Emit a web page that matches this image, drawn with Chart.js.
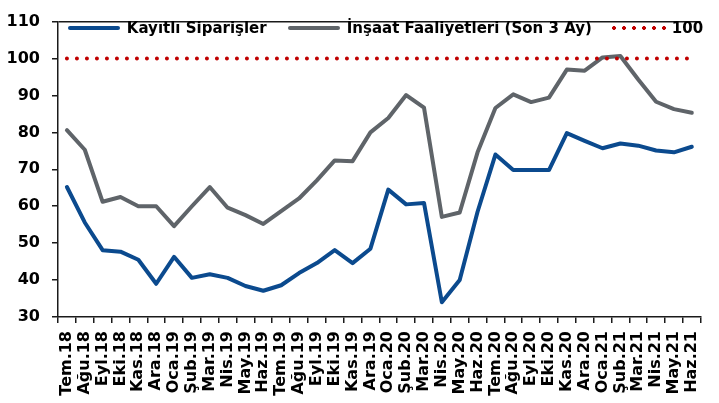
<!DOCTYPE html>
<html>
<head>
<meta charset="utf-8">
<script src="https://cdn.jsdelivr.net/npm/chart.js@4.4.1/dist/chart.umd.min.js"></script>
<style>
  html, body { margin: 0; padding: 0; background: #fff; }
  #wrap { width: 719px; height: 403px; position: relative; }
  #legend {
    position: absolute; left: 55px; width: 661px; top: 18px; height: 20px;
    display: flex; justify-content: center; align-items: center;
    font: bold 15px "DejaVu Sans"; color: #000; white-space: nowrap;
  }
  .item { display: flex; align-items: center; margin: 0 10.5px; }
  .sw { width: 52px; height: 4px; border-radius: 2px; margin-right: 7px; }
  .sw.dots { width: 54px; margin-left: -1px; margin-right: 6px; border-radius: 0; }
</style>
</head>
<body>
<div id="wrap"><canvas id="c"></canvas><div id="legend"></div></div>
<script>
// Months (Temmuz 2018 - Haziran 2021)
const months = ['Tem.18','Ağu.18','Eyl.18','Eki.18','Kas.18','Ara.18','Oca.19','Şub.19','Mar.19','Nis.19','May.19','Haz.19',
  'Tem.19','Ağu.19','Eyl.19','Eki.19','Kas.19','Ara.19','Oca.20','Şub.20','Mar.20','Nis.20','May.20','Haz.20',
  'Tem.20','Ağu.20','Eyl.20','Eki.20','Kas.20','Ara.20','Oca.21','Şub.21','Mar.21','Nis.21','May.21','Haz.21'];

const kayitli = [65.2,55.6,48.1,47.7,45.5,39.0,46.3,40.6,41.6,40.6,38.4,37.1,
  38.6,41.9,44.6,48.1,44.6,48.5,64.5,60.5,60.9,34.0,40.0,58.5,
  74.0,69.8,69.8,69.8,79.8,77.7,75.7,77.0,76.4,75.1,74.6,76.1];

const insaat = [80.6,75.3,61.2,62.5,60.0,60.0,54.6,60.0,65.2,59.6,57.6,55.2,
  58.7,62.1,67.0,72.4,72.2,80.0,83.9,90.1,86.7,57.1,58.3,74.6,
  86.6,90.3,88.2,89.4,97.0,96.7,100.3,100.7,94.3,88.3,86.3,85.3];

const esik = [100,100,100,100,100,100,100,100,100,100,100,100,
  100,100,100,100,100,100,100,100,100,100,100,100,
  100,100,100,100,100,100,100,100,100,100,100,100];

const yMin = 30, yMax = 110, yStep = 10;

const FONT = 'DejaVu Sans';
const AXIS = '#1a1a1a';

const chart = new Chart(document.getElementById('c'), {
  type: 'line',
  data: {
    labels: months,
    datasets: [
      {label: 'Kayıtlı Siparişler', data: kayitli, borderColor: '#0B4A8E',
       borderWidth: 4, pointRadius: 0, tension: 0, borderCapStyle: 'round', borderJoinStyle: 'round'},
      {label: 'İnşaat Faaliyetleri (Son 3 Ay)', data: insaat, borderColor: '#5F6469',
       borderWidth: 4, pointRadius: 0, tension: 0, borderCapStyle: 'round', borderJoinStyle: 'round'},
      {label: '100', data: esik, borderColor: '#C00000',
       borderWidth: 4, pointRadius: 0, borderDash: [0, 10], borderCapStyle: 'round', order: -1}
    ]
  },
  options: {
    responsive: true,
    maintainAspectRatio: false,
    animation: false,
    layout: { padding: { top: 15, right: 0, left: 0, bottom: 0 } },
    plugins: {
      tooltip: { enabled: false },
      legend: { display: false }
    },
    scales: {
      x: {
        offset: true,
        grid: { offset: true, drawOnChartArea: false, drawTicks: true, tickLength: 6, color: AXIS, lineWidth: 1.5 },
        border: { color: AXIS, width: 1.5 },
        ticks: {
          autoSkip: false, maxRotation: 90, minRotation: 90, padding: 8,
          color: '#000', font: { family: FONT, size: 16, weight: 'bold' }
        },
        afterFit(s) { s.height = 86; }
      },
      y: {
        min: yMin, max: yMax,
        grid: {
          drawOnChartArea: true, drawTicks: true, tickLength: 6, lineWidth: 1.5,
          color: c => (c.tick && c.tick.value === yMax) ? AXIS : 'rgba(0,0,0,0)',
          tickColor: AXIS
        },
        border: { color: AXIS, width: 1.5 },
        ticks: {
          stepSize: yStep, padding: 12,
          color: '#000', font: { family: FONT, size: 16, weight: 'bold' }
        },
        afterFit(s) { s.width = 58; }
      }
    }
  }
});

// legend inside the plot, built from the datasets
const leg = document.getElementById('legend');
chart.data.datasets.forEach(ds => {
  const item = document.createElement('div');
  item.className = 'item';
  const sw = document.createElement('span');
  if (ds.borderDash) {
    sw.className = 'sw dots';
    sw.style.background = `radial-gradient(circle at 2px 2px, ${ds.borderColor} 1.6px, transparent 2.2px) 0 0 / 10px 4px repeat-x`;
  } else {
    sw.className = 'sw';
    sw.style.background = ds.borderColor;
  }
  const tx = document.createElement('span');
  tx.textContent = ds.label;
  item.appendChild(sw);
  item.appendChild(tx);
  leg.appendChild(item);
});
</script>
</body>
</html>
